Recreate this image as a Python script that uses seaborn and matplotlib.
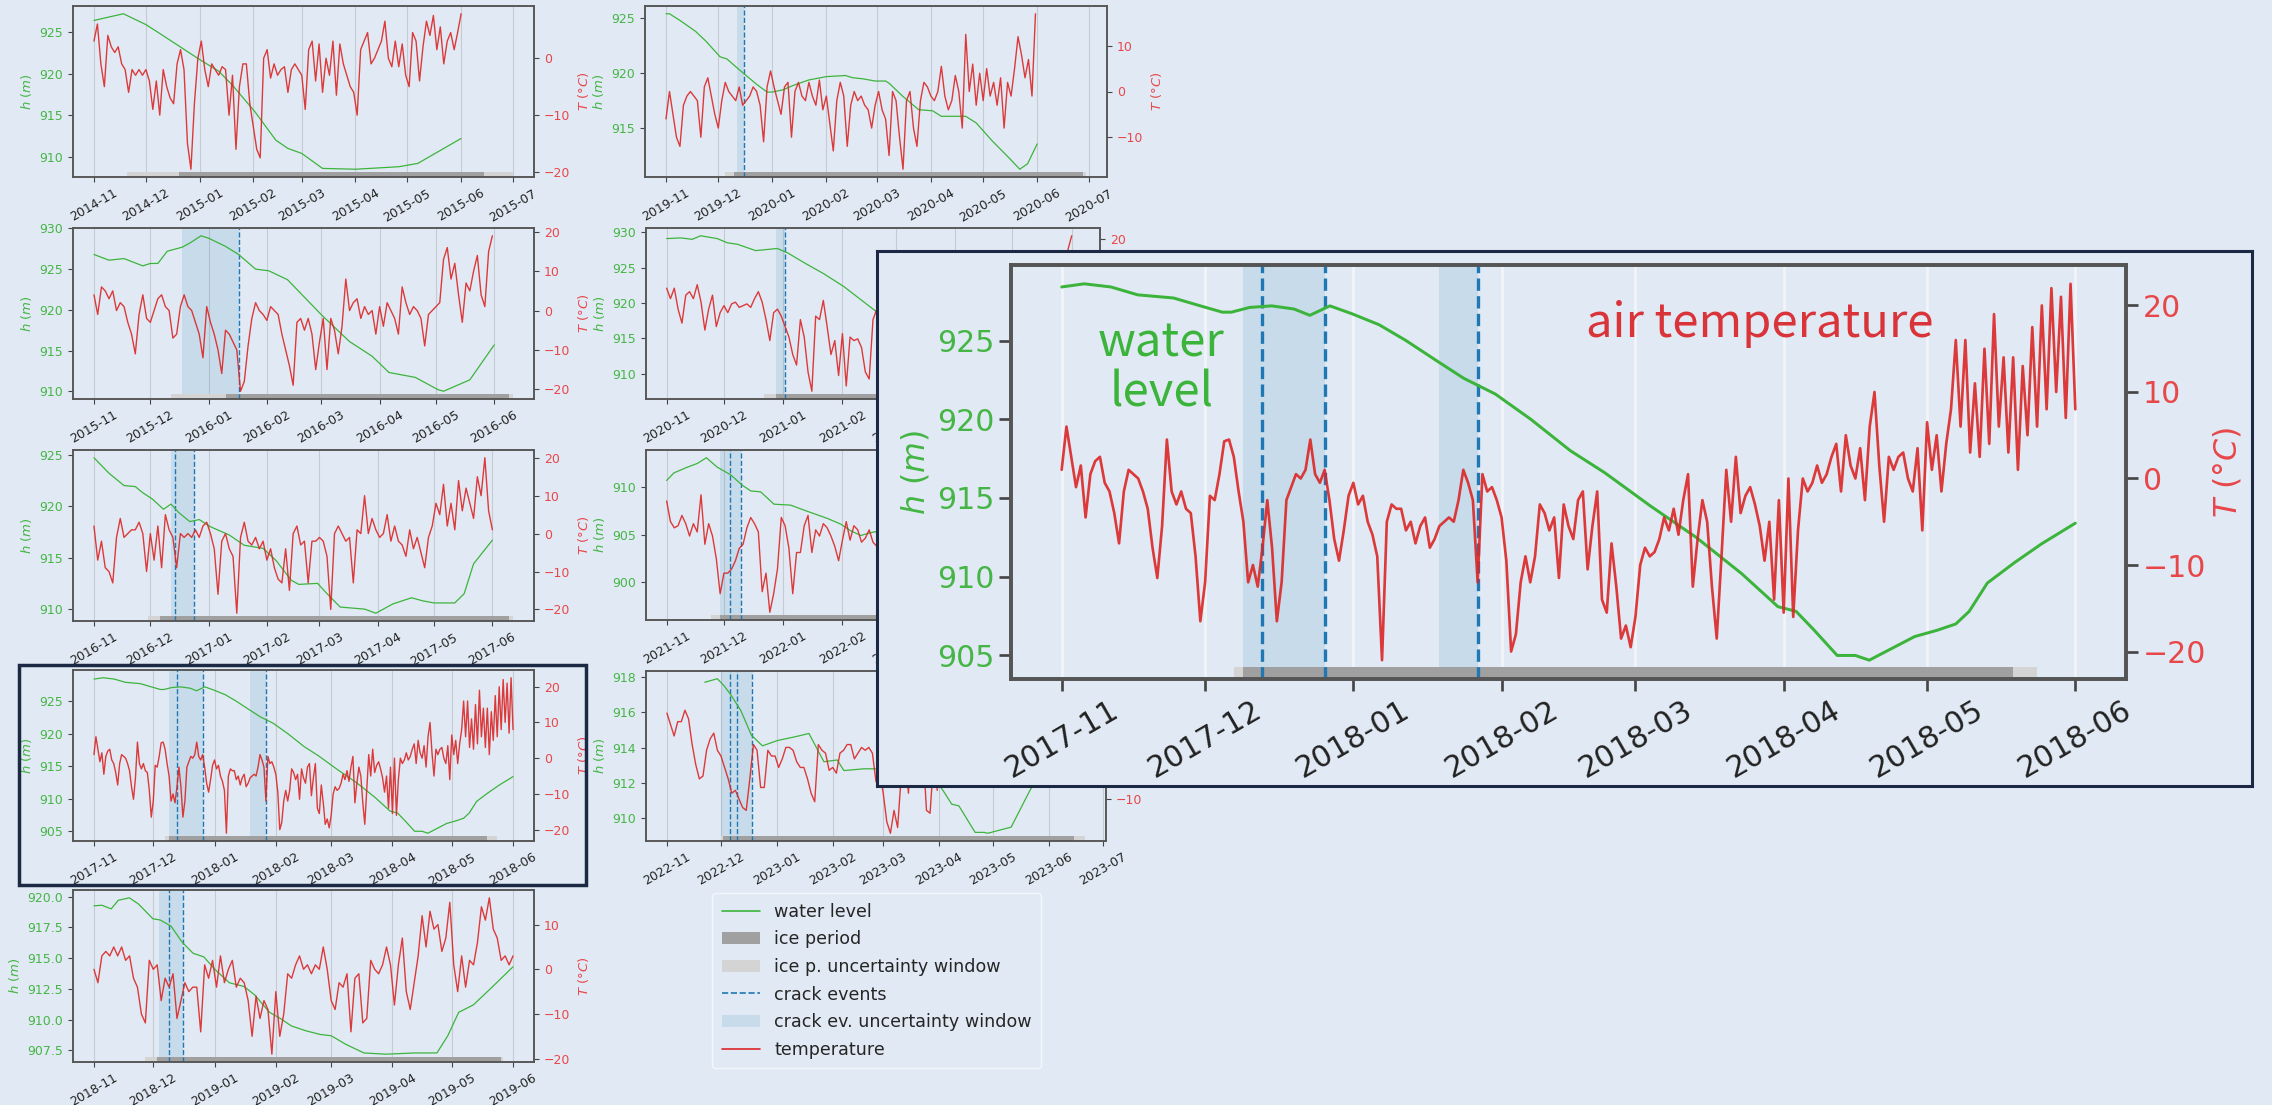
import numpy as np
import pandas as pd
import seaborn as sns
import matplotlib.pyplot as plt
import matplotlib.dates as mdates
from matplotlib.ticker import MultipleLocator, FuncFormatter
from matplotlib.patches import Patch, Rectangle
from matplotlib.lines import Line2D


## STYLE
W, H = 2272, 1105
BG = '#e1eaf4'
GREEN = '#3cb43c'
GREEN_TXT = '#45b545'
RED = '#dc2626'
RED_TXT = '#e8474a'
BLUE = '#1f77b4'
ICE_C = '#a0a0a0'
ICE_UNC_C = '#d4d4d4'
NAVY = '#1b2945'

sns.set_theme(style='ticks', rc={'axes.facecolor': BG, 'figure.facecolor': BG,
                                 'axes.edgecolor': '#555555',
                                 'xtick.color': '#444444', 'ytick.color': '#444444',
                                 'axes.formatter.useoffset': False})
plt.rcParams['font.family'] = ['DejaVu Sans']
plt.rcParams['mathtext.fontset'] = 'dejavusans'


## DATA  (temperature sampled every T_STEP days from 1 Nov, water level at day offsets)
T_2014 = [3, 6, -1, -5, 4, 2, 1, 2, -1, -2, -6, -2, -3, -2, -3, -2, -4, -9, -4, -10,
          -2, -5, -7, -8, -1, 1.5, -2, -15, -19.5, -8, 0, 3, -2, -5, -1, -2, -3, -1.5, -2, -10,
          -3, -16, -5, -1, -1, -8, -12, -16, -17.5, 0, 1.5, -3.5, -1, -3, -2, -1.5, -6, -2, -1, -2,
          -3, -9, 1.5, 3, -4, 2.5, -6, 0, -3, 3, -6.5, 2.5, -1, -3, -5, -6, -10, 1.5, 3, 4.5,
          -1, 0, 1.5, 3, 6.5, 0, -1.5, 3, -1.5, 2.5, -3, -5, 4.5, 3, -4, 2, 6.5, 4, 7.5, 1.5,
          5.5, -1, 3, 4.5, 1.5, 4.5, 7.8]
H_DAYS_2014 = [0, 17, 30, 36, 61, 72, 80, 93, 105, 112, 120, 128, 132, 151, 176, 187, 197, 212]
H_2014 = [926.4, 927.2, 925.9, 925.1, 921.7, 920.3, 918.6, 915.4, 912.0, 911.0, 910.4, 909.2,
          908.6, 908.5, 908.8, 909.2, 910.4, 912.2]

T_2015 = [4, -1, 6, 5, 3, 5, 0, 2, 1, -3, -6, -11, -1, 4, -2, -3, 0, 3, 4, 1,
          0, -7, -6, 1, 4, 1, 0, -3, -6, -12, 1, -3, -6, -10, -16, -5, -6, -8, -10, -20.5,
          -18, -9, -2, 2, 0, -1, -2.5, 1, 0, -1, -6, -10, -14, -19, -3, -2, -5, -2, -6, -15,
          -8, -2, -15, -2, -5, -11, -4, 8, 0, 2, 3, -2, 1, -1, 0, -6, 1, -4, 2, 0,
          -2, -6, 6, 2, -1, 1, 0, -2, -9, -1, 0, 1, 2, 13, 16, 8, 12, 4, -3, 7,
          5, 10, 14, 4, 1, 15, 19]
H_DAYS_2015 = [0, 8, 16, 26, 30, 34, 39, 47, 51, 57, 61, 70, 77, 86, 93, 103, 121, 136, 148,
               157, 171, 183, 186, 200, 213]
H_2015 = [926.8, 926.1, 926.3, 925.4, 925.7, 925.7, 927.2, 927.7, 928.2, 929.1, 928.8, 927.8,
          926.8, 925.0, 924.8, 923.7, 919.4, 916.1, 914.3, 912.3, 911.7, 910.2, 910.0, 911.4, 915.7]

T_2016 = [2, -7, -2, -9, -10, -13, -1, 4, -1, 0, 1, 1, 3, 0, -10, 0, -7, 2, -9, 5,
          1, -1, -9, 0, -1, 0, -1, 1, -1, 2, 3, 0, -4, -16, -2, 0, -4, -6, -21, -1,
          3, -2, -3, -1, -4, -2, -7, -4, -9, -12, -13, -4, -15, 0, 2, -3, -2, -13, -2, -2,
          -1, -2, -6, -20, 0, 2, 0, -2, -1, -13, 1, 0, 10, 0, 4, 1, -1, 0, 5, -2,
          2, -2, -3, -6, 1, -4, -1, -5, -9, -1, 2, 8, 5, 13, 2, 8, 1, 14, 6, 12,
          8, 4, 15, 10, 20, 6, 1]
H_DAYS_2016 = [0, 8, 16, 22, 26, 31, 37, 41, 45, 51, 56, 62, 72, 80, 90, 97, 105, 109, 119, 124,
               131, 144, 150, 159, 169, 175, 181, 192, 197, 202, 212]
H_2016 = [924.7, 923.2, 922.0, 921.9, 921.3, 920.7, 919.7, 920.2, 919.4, 918.5, 918.7, 918.0,
          917.2, 916.2, 915.9, 914.7, 912.8, 912.4, 912.5, 911.5, 910.2, 910.0, 909.6, 910.5,
          911.1, 910.8, 910.6, 910.6, 911.5, 914.4, 916.7]

T_2017 = [1, 6, 2.5, -1, 1.5, -4.5, 0.5, 2, 2.5, -0.5,
          -1.5, -4, -7.5, -1.5, 1, 0.5, 0, -1.5, -3.5, -8,
          -11.5, -5.5, 4.5, -1.5, -3, -1.5, -3.5, -4, -9, -16.5,
          -12, -2, -2.5, 0.5, 4.3, 4.5, 2.5, -1.5, -5, -12,
          -10, -12.5, -8, -2.5, -8, -16.5, -12, -2.5, -1, 0.5,
          0, 1, 4.5, 0.5, -0.5, 1, -2.5, -7, -9.5, -6,
          -2, -0.5, -3, -2, -5, -6.5, -9, -21, -5, -3,
          -3.5, -3.5, -6, -5, -7.5, -5.5, -4.5, -8, -7, -5.5,
          -5, -4.5, -5, -2.5, 1, -0.5, -2.5, -12, 0.5, -1.5,
          -1, -2.5, -4.5, -9.5, -20, -18, -12, -9, -12, -9,
          -3, -4, -6, -4.5, -11.5, -3, -5.5,
          -7, -2.5, -1.5, -10.5, -5.5, -1.5, -14, -15.5, -7.5, -12.5,
          -18.5, -17, -19.5, -16, -10, -8, -9, -8.5, -7, -4.5,
          -6, -3.5, -6.5, -2.5, 0.5, -12.5, -7, -2.5, -5, -12.5,
          -18.5, -9, 1, -5, 2.5, -4, -2, -1, -3, -5.5,
          -9.5, -5, -14, -2.5, -15.5, 0, -16, -6, 0, -1.5,
          -0.5, 1.5, -0.5, 0.5, 2.5, 4, -1.5, 5, 1.5, 0,
          3.5, -2.5, 6, 10, 1.5, -5, 2.5, 1, 2.5, 3,
          0, -1.5, 3.5, -6, 6.5, 1, 5, -1.5, 4, 8,
          16, 6, 16, 3, 11, 2.5, 15, 4, 19, 6,
          14, 3, 14, 1, 13, 5, 17.5, 6, 20, 8,
          22, 10, 21, 7, 22.5, 8]
H_DAYS_2017 = [0, 4.7, 10.3, 15.9, 23.4, 29, 33.6, 35.5, 39.3, 43.9, 48.6, 51.9, 56.1, 60.7,
               66.4, 72, 78.5, 84.1, 90.7, 98.1, 106.4, 113.6, 123.1, 132.7, 142.2, 149.8,
               153.6, 157.4, 162.2, 166, 168.9, 172.7, 178.4, 183.1, 187, 189.8, 193.6, 199.3,
               205, 212]
H_2017 = [928.4, 928.6, 928.4, 927.9, 927.7, 927.2, 926.8, 926.8, 927.1, 927.2, 927.0, 926.6,
          927.2, 926.7, 926.0, 925.0, 923.7, 922.6, 921.6, 920.0, 918.0, 916.6, 914.5, 912.5,
          910.2, 908.1, 907.8, 906.6, 905.0, 905.0, 904.7, 905.3, 906.2, 906.6, 907.0, 907.8,
          909.6, 910.9, 912.1, 913.4]

T_2018 = [0, -3, 3, 4, 3, 5, 3, 5, 2, 3, -2, -4, -10, -12, 2, 0, 1, -7, -2, -4,
          -1, -11, -7, -3, -5, -4, -4, -14, 1, -2, 2, -4, 3, -3, 0, 2, -4, -2, -3, -7,
          -15, -6, -11, -7, -9, -19, -5, -15, -10, -1, -2, 1, 3, 0, 1, -1, 1, 0, 5, 0,
          -7, -9, -3, -4, -1, -14, -2, -1, -12, -11, 2, 0, -1, 1, 5, 1, -8, 1, 7, -5,
          -9, -3, 3, 12, 5, 13, 9, 10, 4, 7, 15, 1, -5, 3, -4, 2, 1, 6, 14, 11,
          16, 9, 7, 2, 3, 1, 3]
H_DAYS_2018 = [0, 4, 8.7, 12.3, 17.9, 22.5, 29.8, 33.5, 39, 44.6, 50.1, 55.6, 61.1, 68.5, 75.9,
               81.4, 88.8, 94.3, 99.8, 107.2, 114.5, 120, 127.4, 136.6, 147.7, 162.4, 173.5,
               179, 184.5, 191.9, 201.1, 212]
H_2018 = [919.25, 919.3, 919.0, 919.7, 919.9, 919.4, 918.2, 918.1, 917.6, 916.3, 915.4, 915.1,
          914.1, 913.0, 912.7, 912.0, 910.6, 910.1, 909.5, 909.1, 908.8, 908.7, 908.0, 907.3,
          907.2, 907.3, 907.3, 908.7, 910.6, 911.2, 912.6, 914.3]

T_2019 = [-6, 0, -5, -10, -12, -3, -1, 0, -1, -2, -10, 1, 3, -1, -5, -8, -2, 2, 0, -1,
          -2, 1, -3, -2, -1, 1, 0, -3, -11, 1, 4.5, 1, -2, -5, 1, 2, -10, 0, 2, -1,
          -2, 2, -1, -3, 2.5, -4, -1, -7, -13, -2, 2, -1, -12, -3, 0, -2, -1, -3, -4, -8,
          -3, 0, -4, -6, -14, 0, -2, -10, -17, -2, 0, -8, -12, -2, 2, 1, -1, -2, 0, 5.5,
          -1, -4, -2, 3.5, 0, -8, 12.5, 0, 6, -3, 4, -2, 5, -1, 2, -3, 3, -8, 2, -1,
          5, 12, 8, 3, 7, -1, 17]
H_DAYS_2019 = [0, 2, 8, 17, 23, 31, 35, 40, 46, 52, 58, 61, 67, 73, 82, 92, 103, 107, 113, 120,
               126, 128, 136, 145, 153, 158, 172, 178, 187, 197, 203, 207.5, 213]
H_2019 = [925.4, 925.4, 924.8, 923.8, 922.9, 921.5, 921.3, 920.6, 919.8, 919.0, 918.3, 918.3,
          918.5, 918.9, 919.4, 919.7, 919.8, 919.6, 919.5, 919.3, 919.3, 919.1, 917.9, 916.7,
          916.6, 916.1, 916.1, 915.5, 913.9, 912.3, 911.3, 911.8, 913.6]

T_2020 = [6, 3, 6, 0, -4, 4, 5, 3, 7, 2, -6, 0, 4, -5, -1, 1, -1, 1.5, 2, 0.5,
          1, 1.5, 0.5, 3, 5, 2, -3, -9, -1, 0, -2, -5, -8, -13, -16, -3, -8, -18, -23.5, -2,
          -3, 2.5, -5, -13, -9, -19, -7, -22, -8, -9, -8.5, -11, -18, -20, -3, 0,
          -2, -5, 1, -3, -8, -1, 2, -4, 0, 3, -2, -6, 1, 4, -1, 2, -3, 5, 0, 3,
          -2, 6, 1, -1, 4, 7, 2, -2, 5, 8, 3, 6, 1, 9, 4, 7, 2, 10, 5, 12,
          6, 9, 14, 8, 11, 16, 10, 13, 9, 17, 21]
H_DAYS_2020 = [0, 7.3, 13.4, 17.8, 26.5, 31.8, 37, 46.6, 57.9, 63.2, 71.9, 82.4, 92.8, 109.1,
               125, 140, 155, 170, 185, 200, 212]
H_2020 = [929.1, 929.2, 929.0, 929.5, 929.1, 928.5, 928.3, 927.4, 927.7, 927.1, 925.7, 924.1,
          922.3, 918.9, 915.5, 912.5, 910.0, 907.8, 907.5, 910.0, 913.0]

T_2021 = [5.5, 0.5, -1, -0.5, 2, 0, -3, 0, -2, 7, -5, 0, -3, -8.5, -17, -12, -12, -11, -9, -6,
          -5, -1, 1.5, 0, -2, -16.5, -12, -21.5, -17, -11, 1.5, -0.5, -6, -17, -7, -7, -0.5, 2, -7, -1.5,
          -3, 0, -1, -3, -5.5, -9, -4, 0.5, -4, -0.5, -1.5, -4.5, -3.5, -1.5, -4.5, -5.5,
          -3, -7, -1, -4, -9, -2, 1, -5, -1, 2, -3, -7, 0, 3, -2, 1, -4, 4, -1, 2,
          -3, 5, 0, -2, 3, 6, 1, -3, 4, 7, 2, 5, 0, 8, 3, 6, 1, 9, 4, 11,
          5, 8, 12, 7, 10, 14, 9, 12, 8, 13, 16]
H_DAYS_2021 = [0, 3.8, 10.8, 16.1, 20.8, 26.5, 33.5, 39.6, 44, 49.2, 56.2, 64.9, 70.2, 77.1,
               84.1, 91.1, 96.3, 101.6, 105.1, 109.1, 125, 140, 155, 165, 175, 190, 200, 212]
H_2021 = [910.7, 911.5, 912.1, 912.5, 913.1, 912.1, 911.3, 910.2, 909.6, 909.5, 908.2, 908.1,
          907.7, 907.2, 906.7, 906.1, 905.4, 904.9, 905.1, 905.3, 903.5, 901.5, 899.5, 897.8,
          896.8, 897.5, 899.5, 902.0]

T_2022 = [5, 3, 1, 3.5, 3.5, 5.5, 4, -0.5, -4, -6.5, -6, -1.5, 0.5, 1.5, -1.5, -2.5, -4.5, -6.5, -9, -8.5,
          -10, -11.5, -12, -6.5, -0.5, -1.5, -8, -8, -1.5, -2.5, -2.5, -4.5, -3, -1, -1, -1.5, -3.5, -4.5, -4.5, -6.5,
          -9, -10.5, -0.5, -1.5, -2, -5, -4.5, -5.5, -2, -1.5, -0.5, -0.5, -3, -2, -1, -1.5, -1, -2, -7, -5,
          -9, -14, -16, -12, -15, -6, -2, -9, 3, 11, 5, -1, -12, -12.5, -3, -8.5]
H_DAYS_2022 = [21, 28, 31.7, 35.4, 41, 46.9, 53, 61.3, 70.5, 78.8, 87.1, 94.5, 98.2, 109.2, 117,
               135, 148, 153, 158, 162, 171, 176, 178, 191, 201, 212]
H_2022 = [917.7, 917.9, 917.5, 917.0, 916.1, 914.7, 914.1, 914.4, 914.6, 914.8, 913.2, 913.3,
          912.7, 912.8, 912.8, 912.6, 912.3, 911.6, 910.8, 910.7, 909.2, 909.2, 909.15, 909.5,
          911.5, 913.5]

# ice period, ice uncertainty window, crack events, crack uncertainty windows
ICE_PERIOD = {'2014': ('2014-12-20', '2015-06-14'), '2015': ('2016-01-10', '2016-06-09'),
              '2016': ('2016-12-06', '2017-06-10'), '2017': ('2017-12-09', '2018-05-19'),
              '2018': ('2018-12-03', '2019-05-26'), '2019': ('2019-12-10', '2020-06-27'),
              '2020': ('2020-12-28', '2021-06-01'), '2021': ('2021-11-29', '2022-06-01'),
              '2022': ('2022-12-02', '2023-06-15')}
ICE_WIN = {'2014': ('2014-11-20', '2015-07-01'), '2015': ('2015-12-12', '2016-06-11'),
           '2016': ('2016-11-30', '2017-06-12'), '2017': ('2017-12-07', '2018-05-24'),
           '2018': ('2018-11-27', '2019-05-27'), '2019': ('2019-12-05', '2020-06-29'),
           '2020': ('2020-12-22', '2021-06-05'), '2021': ('2021-11-24', '2022-06-05'),
           '2022': ('2022-12-01', '2023-06-21')}
CRACKS = {'2014': [], '2015': ['2016-01-17'], '2016': ['2016-12-14', '2016-12-24'],
          '2017': ['2017-12-13', '2017-12-26', '2018-01-27'], '2018': ['2018-12-09', '2018-12-16'],
          '2019': ['2019-12-16'], '2020': ['2021-01-02'], '2021': ['2021-12-04', '2021-12-10'],
          '2022': ['2022-12-06', '2022-12-10', '2022-12-18']}
CRACK_WIN = {'2014': [], '2015': [('2015-12-18', '2016-01-17')], '2016': [('2016-12-12', '2016-12-24')],
             '2017': [('2017-12-09', '2017-12-26'), ('2018-01-19', '2018-01-27')],
             '2018': [('2018-12-04', '2018-12-16')], '2019': [('2019-12-12', '2019-12-16')],
             '2020': [('2020-12-28', '2021-01-02')], '2021': [('2021-11-29', '2021-12-10')],
             '2022': [('2022-12-01', '2022-12-18')]}

TEMPS = {'2014': T_2014, '2015': T_2015, '2016': T_2016, '2017': T_2017, '2018': T_2018,
         '2019': T_2019, '2020': T_2020, '2021': T_2021, '2022': T_2022}
T_STEP = {'2017': 1}
LEVELS = {'2014': (H_DAYS_2014, H_2014), '2015': (H_DAYS_2015, H_2015), '2016': (H_DAYS_2016, H_2016),
          '2017': (H_DAYS_2017, H_2017), '2018': (H_DAYS_2018, H_2018), '2019': (H_DAYS_2019, H_2019),
          '2020': (H_DAYS_2020, H_2020), '2021': (H_DAYS_2021, H_2021), '2022': (H_DAYS_2022, H_2022)}
H_STEP = {'2018': 2.5, '2022': 2}
# right-axis labels that stay visible where the zoom box covers the panel
T_VISIBLE = {'2020': [20], '2021': [], '2022': [-10]}

# panel boxes in pixels (left, top, right, bottom)
RECTS = {'2014': (73, 6, 534, 177), '2015': (73, 228, 534, 399), '2016': (73, 450, 534, 621),
         '2017': (73, 670, 534, 841), '2018': (73, 890, 534, 1062),
         '2019': (645, 6, 1107, 177), '2020': (646, 228, 1100, 399),
         '2021': (646, 450, 1100, 620), '2022': (646, 671, 1106, 841)}
INSET = (1011, 265, 2126, 679)


## PLOT
fig = plt.figure(figsize=(W / 100, H / 100), dpi=100)


def px(rect):
    x0, y0, x1, y1 = rect
    return [x0 / W, 1 - y1 / H, (x1 - x0) / W, (y1 - y0) / H]


def draw_panel(rect, yr, k=1.0, z=None):
    ax = fig.add_axes(px(rect))
    ax.set_facecolor('none')
    start = pd.Timestamp('%s-11-01' % yr)
    t_vals = TEMPS[yr]
    t_dates = pd.date_range(start, periods=len(t_vals), freq='%dD' % T_STEP.get(yr, 2))
    h_days, h_vals = LEVELS[yr]
    h_dates = start + pd.to_timedelta(h_days, unit='D')

    a, b = ICE_WIN[yr]
    ax.axvspan(pd.Timestamp(a), pd.Timestamp(b), ymin=0, ymax=0.03, color=ICE_UNC_C, lw=0, zorder=1.5)
    a, b = ICE_PERIOD[yr]
    ax.axvspan(pd.Timestamp(a), pd.Timestamp(b), ymin=0, ymax=0.03, color=ICE_C, lw=0, zorder=1.6)
    for a, b in CRACK_WIN[yr]:
        ax.axvspan(pd.Timestamp(a), pd.Timestamp(b), color=BLUE, alpha=0.13, lw=0, zorder=1)
    for c in CRACKS[yr]:
        ax.axvline(pd.Timestamp(c), color=BLUE, ls='--', lw=1.0 * k, zorder=2)
    sns.lineplot(x=h_dates, y=h_vals, ax=ax, color=GREEN, lw=0.9 * k, zorder=3)

    ax2 = ax.twinx()
    sns.lineplot(x=t_dates, y=t_vals, ax=ax2, color=RED, lw=(1.0 if k == 1 else 0.8 * k), alpha=0.9)
    if z is not None:
        ax.set_zorder(z)
        ax2.set_zorder(z + 1)

    ax.xaxis.set_major_locator(mdates.MonthLocator())
    ax.xaxis.set_major_formatter(mdates.DateFormatter('%Y-%m'))
    ax.yaxis.set_major_locator(MultipleLocator(H_STEP.get(yr, 5)))
    ax2.yaxis.set_major_locator(MultipleLocator(10))
    ax.grid(axis='x', color='#f2f4f7' if k > 1 else '#c6cbd1', lw=0.8 * k)
    ax.set_axisbelow(True)
    ax.set_xlabel('')
    ax2.set_xlabel('')
    ax.set_ylabel(r'$h\ (m)$', color=GREEN_TXT, fontsize=9.5 * k)
    ax2.set_ylabel(r'$T\ (\degree C)$', color=RED_TXT, fontsize=9.5 * k)
    if k == 1 and yr in T_VISIBLE:
        keep = T_VISIBLE[yr]
        ax2.yaxis.set_major_formatter(FuncFormatter(
            lambda v, p: ('%d' % v).replace('-', '\u2212') if round(v) in keep else ''))
        ax2.set_ylabel('')
    ax.tick_params(axis='x', labelsize=9 * k, labelrotation=30, labelcolor='#222222',
                   length=3.5 * k, width=0.8 * k)
    ax.tick_params(axis='y', labelsize=9 * k, labelcolor=GREEN_TXT, length=3.5 * k, width=0.8 * k)
    ax2.tick_params(axis='y', labelsize=9 * k, labelcolor=RED_TXT, length=3.5 * k, width=0.8 * k)
    for a_ in (ax, ax2):
        for sp in a_.spines.values():
            sp.set_color('#555555')
            sp.set_linewidth(1.1 * k)
    return ax, ax2


for yr, rect in RECTS.items():
    draw_panel(rect, yr)

# highlight of the zoomed season
fig.add_artist(Rectangle((19 / W, 1 - 885 / H), (586 - 19) / W, (885 - 665) / H,
                         transform=fig.transFigure, fill=False, edgecolor=NAVY, lw=2.5, zorder=5))

# zoomed copy of 2017-18
box = fig.add_axes(px((877, 251, 2252, 786)))
box.set_facecolor(BG)
box.set_xticks([])
box.set_yticks([])
for sp in box.spines.values():
    sp.set_color(NAVY)
    sp.set_linewidth(2.2)
box.set_zorder(10)

ax_in, ax_in2 = draw_panel(INSET, '2017', k=2.4, z=11)
ax_in.text(0.135, 0.751, 'water\nlevel', transform=ax_in.transAxes, ha='center', va='center',
           fontsize=34, color=GREEN, linespacing=1.05, family=['Noto Sans CJK JP', 'DejaVu Sans'])
ax_in.text(0.516, 0.857, 'air temperature', transform=ax_in.transAxes, ha='left', va='center',
           fontsize=34, color='#d9343a', family=['Noto Sans CJK JP', 'DejaVu Sans'])

# legend
handles = [Line2D([], [], color=GREEN, lw=1.2),
           Patch(facecolor=ICE_C, edgecolor='none'),
           Patch(facecolor=ICE_UNC_C, edgecolor='none'),
           Line2D([], [], color=BLUE, ls='--', lw=1.2),
           Patch(facecolor=BLUE, alpha=0.13, edgecolor='none'),
           Line2D([], [], color=RED, lw=1.2)]
labels = ['water level', 'ice period', 'ice p. uncertainty window', 'crack events',
          'crack ev. uncertainty window', 'temperature']
fig.legend(handles, labels, loc='upper left', bbox_to_anchor=(712 / W, 1 - 893 / H),
           borderaxespad=0, fontsize=12.6, frameon=True, facecolor=BG, edgecolor='#f3f6fa',
           framealpha=1, labelspacing=0.55, borderpad=0.55, handlelength=2.2)

fig.savefig('out.png', dpi=100, facecolor=BG)
